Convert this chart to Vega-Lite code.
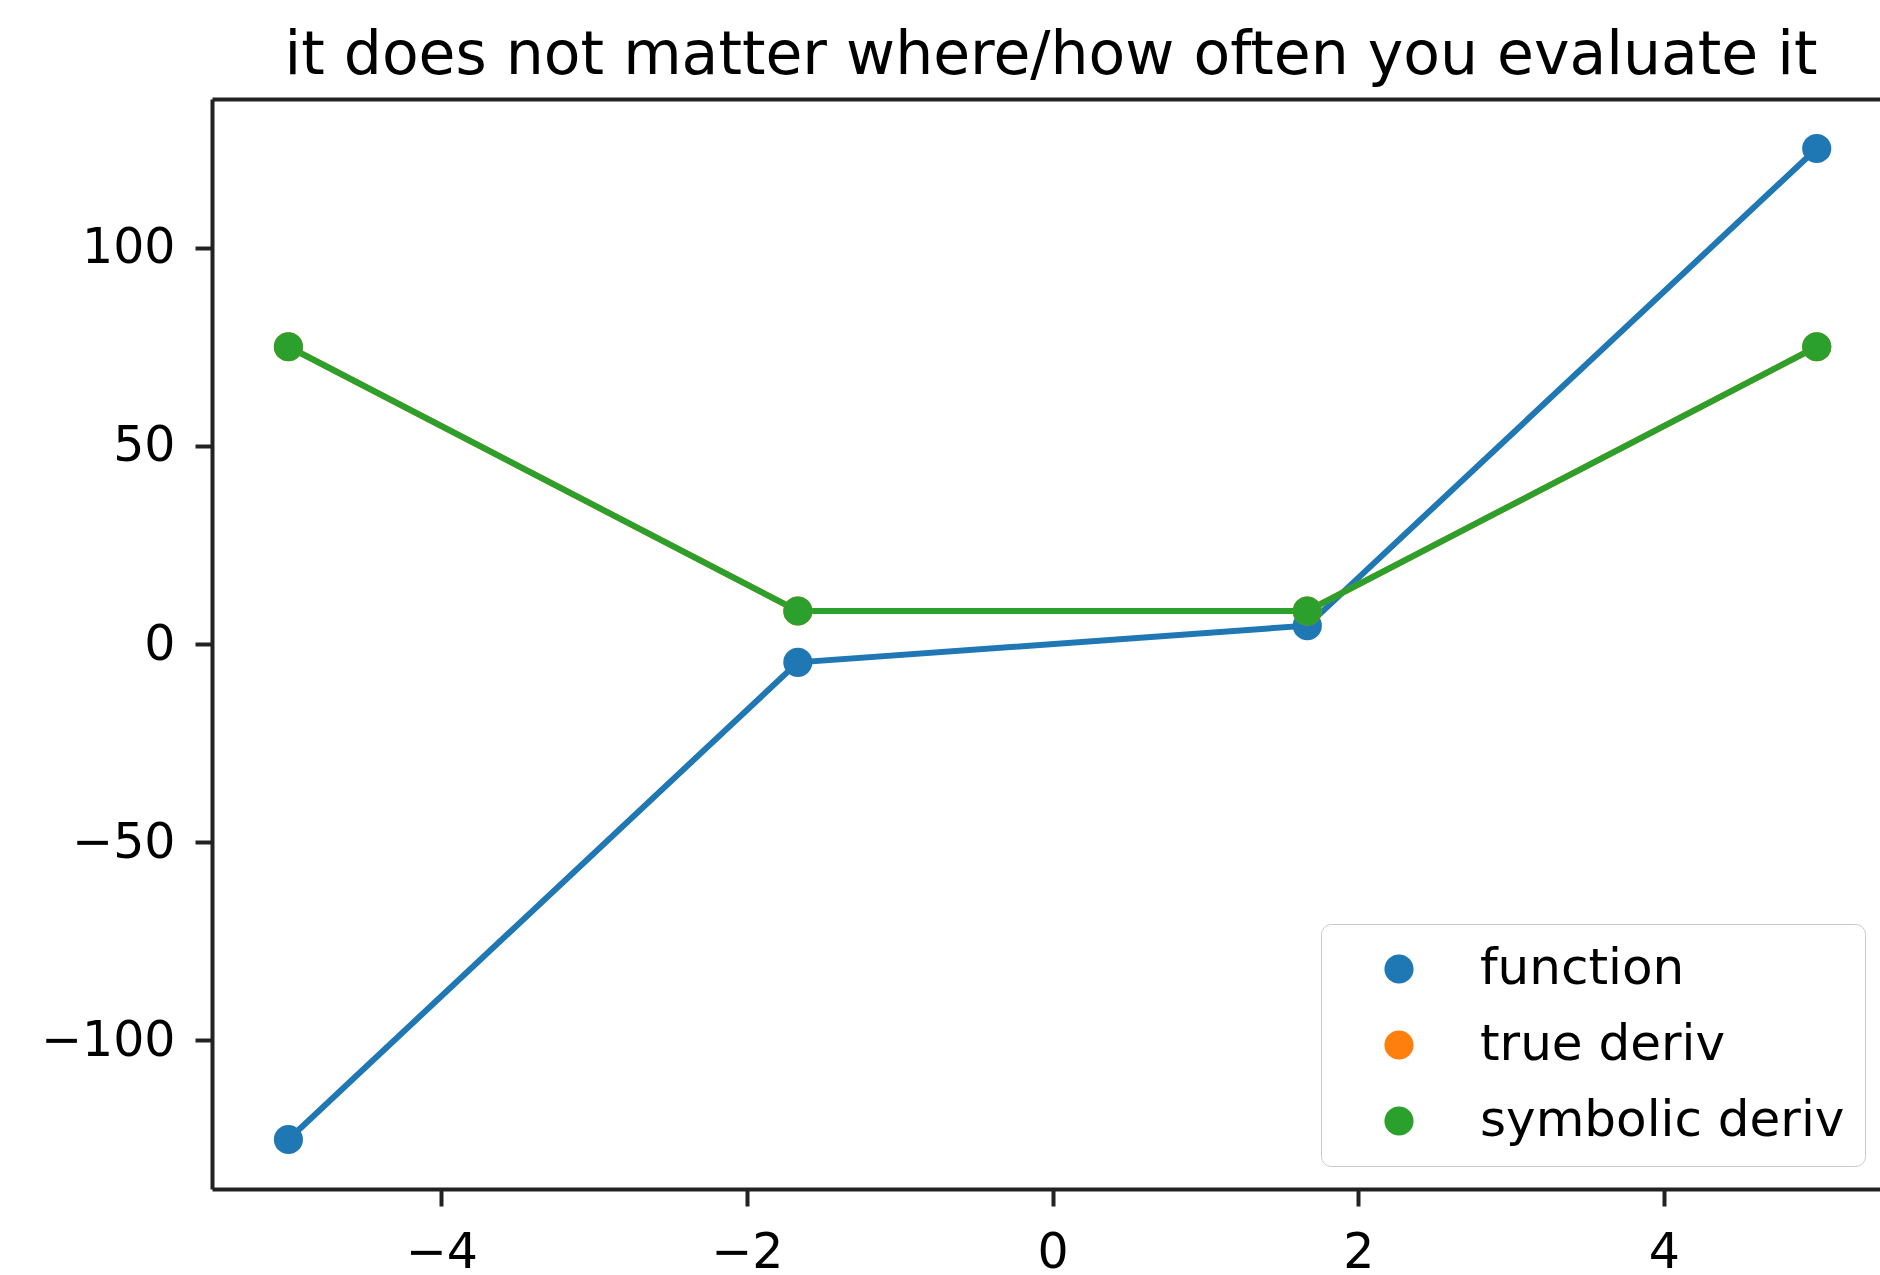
{
  "$schema": "https://vega.github.io/schema/vega-lite/v6.json",
  "width": 1668,
  "height": 1090,
  "autosize": {"type": "none"},
  "padding": {"left": 212, "top": 99, "right": 0, "bottom": 86},
  "background": "white",
  "title": {
    "text": "it does not matter where/how often you evaluate it",
    "fontSize": 60,
    "font": "DejaVu Sans",
    "fontWeight": "normal",
    "color": "#000000",
    "baseline": "alphabetic",
    "offset": -35,
    "dx": 5,
    "anchor": "middle"
  },
  "config": {
    "view": {"stroke": null},
    "axis": {
      "domainColor": "#222222",
      "domainWidth": 4,
      "tickColor": "#222222",
      "tickWidth": 4,
      "tickSize": 17,
      "labelFontSize": 49,
      "labelFont": "DejaVu Sans",
      "labelColor": "#000000",
      "grid": false,
      "title": null,
      "labelPadding": 20,
      "labelFlush": false,
      "labelOverlap": false
    }
  },
  "data": {
    "values": [
      {"x": -5, "y": -125, "series": "function"},
      {"x": -1.6667, "y": -4.6296, "series": "function"},
      {"x": 1.6667, "y": 4.6296, "series": "function"},
      {"x": 5, "y": 125, "series": "function"},
      {"x": -5, "y": 75, "series": "true deriv"},
      {"x": -1.6667, "y": 8.3333, "series": "true deriv"},
      {"x": 1.6667, "y": 8.3333, "series": "true deriv"},
      {"x": 5, "y": 75, "series": "true deriv"},
      {"x": -5, "y": 75, "series": "symbolic deriv"},
      {"x": -1.6667, "y": 8.3333, "series": "symbolic deriv"},
      {"x": 1.6667, "y": 8.3333, "series": "symbolic deriv"},
      {"x": 5, "y": 75, "series": "symbolic deriv"}
    ]
  },
  "layer": [
    {
      "mark": {"type": "line", "strokeWidth": 6},
      "encoding": {
        "x": {"field": "x", "type": "quantitative", "scale": {"domain": [-5.5, 5.414], "nice": false, "zero": false}, "axis": {"orient": "top", "labels": false, "ticks": false, "domain": true}},
        "y": {"field": "y", "type": "quantitative", "scale": {"domain": [-137.5, 137.5], "nice": false, "zero": false}, "axis": {"values": [-100, -50, 0, 50, 100]}},
        "color": {"field": "series", "type": "nominal", "scale": {"domain": ["function", "true deriv", "symbolic deriv"], "range": ["#1f77b4", "#ff7f0e", "#2ca02c"]}, "legend": null}
      }
    },
    {
      "mark": {"type": "point", "filled": true, "size": 850, "opacity": 1},
      "encoding": {
        "x": {"field": "x", "type": "quantitative", "scale": {"domain": [-5.5, 5.414], "nice": false, "zero": false}, "axis": {"orient": "bottom", "values": [-4, -2, 0, 2, 4], "labelPadding": 22}},
        "y": {"field": "y", "type": "quantitative"},
        "color": {
          "field": "series", "type": "nominal",
          "legend": {
            "title": null,
            "orient": "none",
            "legendX": 1109,
            "legendY": 825,
            "padding": 20,
            "rowPadding": 26,
            "clipHeight": 50,
            "labelFontSize": 50,
            "labelFont": "DejaVu Sans",
            "labelColor": "#000000",
            "labelOffset": 56,
            "labelLimit": 0,
            "symbolSize": 850,
            "symbolOffset": 33,
            "symbolType": "circle",
            "strokeColor": "#c8c8c8",
            "fillColor": "rgba(255,255,255,0.8)",
            "cornerRadius": 10
          }
        }
      }
    }
  ],
  "resolve": {"axis": {"x": "independent"}, "legend": {"color": "independent"}}
}
